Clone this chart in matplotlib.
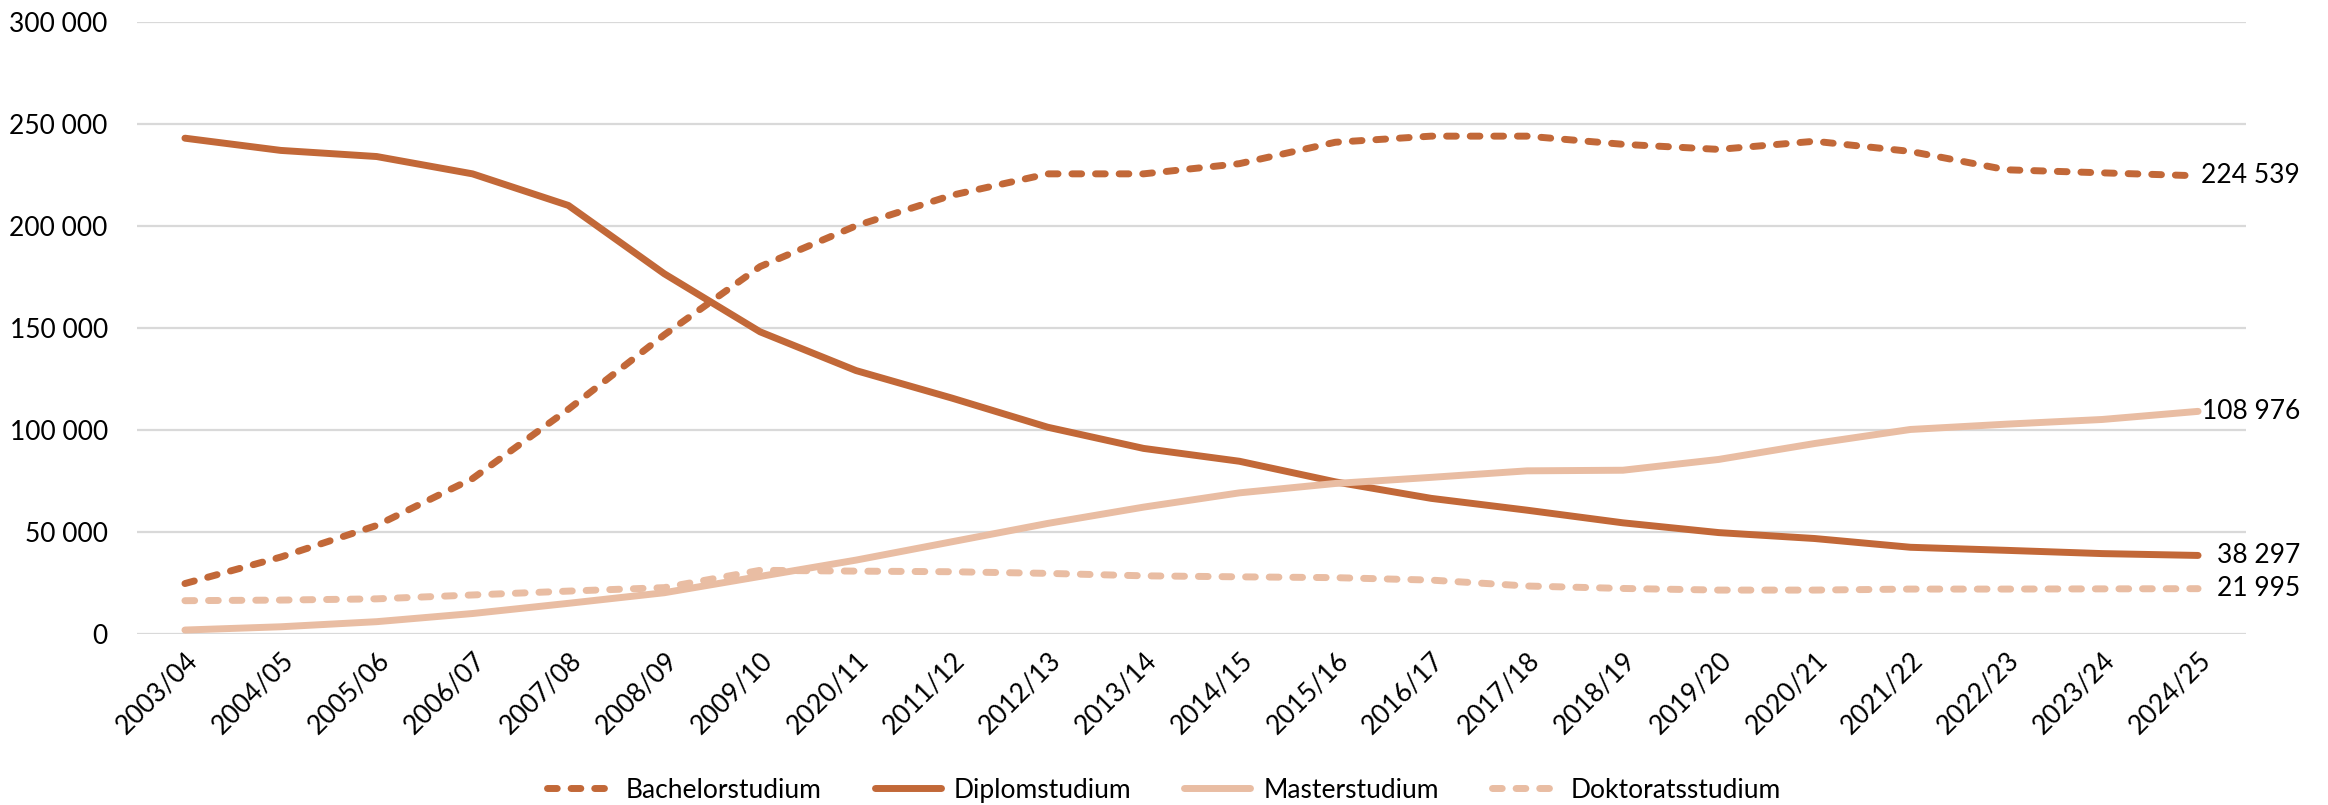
import matplotlib

matplotlib.use("Agg")
import matplotlib.pyplot as plt
from matplotlib.ticker import FuncFormatter

plt.rcParams["font.family"] = ["Lato", "DejaVu Sans"]

semesters = [
    "2003/04", "2004/05", "2005/06", "2006/07", "2007/08", "2008/09", "2009/10",
    "2020/11", "2011/12", "2012/13", "2013/14", "2014/15", "2015/16", "2016/17",
    "2017/18", "2018/19", "2019/20", "2020/21", "2021/22", "2022/23", "2023/24",
    "2024/25",
]

bachelor = [24500, 37500, 53000, 76000, 110000, 146500, 180000, 200000, 215000,
            225500, 225500, 230500, 241000, 244000, 244000, 240000, 237500,
            241500, 236500, 227500, 226000, 224539]
diplom = [243000, 237000, 234000, 225500, 210000, 176500, 148000, 129000, 115500,
          101200, 90800, 84500, 74400, 66300, 60500, 54300, 49500, 46600, 42300,
          40800, 39200, 38297]
master = [1700, 3300, 5800, 9800, 14800, 20000, 28000, 36000, 45000, 54000, 62000,
          69000, 73600, 76600, 79800, 80100, 85400, 93200, 100100, 102700, 105000,
          108976]
doktorat = [16100, 16400, 17000, 18900, 20800, 22500, 31000, 30600, 30300, 29500,
            28300, 27800, 27400, 26200, 23300, 22100, 21300, 21300, 21800, 21800,
            21900, 21995]

end_labels = ["224 539", "38 297", "108 976", "21 995"]

dark = "#C26838"
light = "#E9BDA3"

fig = plt.figure(figsize=(23.28, 8.05), dpi=100)
ax = fig.add_axes([137 / 2328, 1 - 633.5 / 805, 2109 / 2328, 611.5 / 805])

x = range(len(semesters))
lw = 5.0
dash = (1.4, 2.0)

(l_bach,) = ax.plot(x, bachelor, color=dark, lw=lw, dashes=dash,
                    dash_capstyle="round", solid_capstyle="round", label="Bachelorstudium")
(l_dipl,) = ax.plot(x, diplom, color=dark, lw=lw, solid_capstyle="round",
                    label="Diplomstudium")
(l_mast,) = ax.plot(x, master, color=light, lw=lw, solid_capstyle="round",
                    label="Masterstudium")
(l_dokt,) = ax.plot(x, doktorat, color=light, lw=lw, dashes=dash,
                    dash_capstyle="round", label="Doktoratsstudium")

# Werte rechts neben dem letzten Punkt, rechtsbündig
last = len(semesters) - 1
for series, text in zip([bachelor, diplom, master, doktorat], end_labels):
    ax.annotate(text, (last, series[-1]), xytext=(102, 0),
                textcoords="offset pixels", ha="right", va="center",
                fontsize=19, color="black", annotation_clip=False)

ax.set_xlim(-0.5, last + 0.5)
ax.set_ylim(0, 300000)
ax.set_yticks(range(0, 300001, 50000))
ax.yaxis.set_major_formatter(FuncFormatter(lambda v, _: f"{int(v):,}".replace(",", " ")))
ax.set_xticks(list(x))
ax.set_xticklabels(semesters, rotation=45, ha="right", rotation_mode="anchor")

ax.grid(axis="y", color="#D9D9D9", lw=1.6)
ax.set_axisbelow(True)
for s in ax.spines.values():
    s.set_visible(False)
ax.tick_params(axis="both", length=0, labelsize=19, colors="black")
ax.tick_params(axis="y", pad=21)
ax.tick_params(axis="x", pad=10)

fig.legend(handles=[l_bach, l_dipl, l_mast, l_dokt], loc="center",
           bbox_to_anchor=(0.5, 1 - 790 / 805), ncol=4, frameon=False,
           fontsize=19, handlelength=2.5, handletextpad=0.5, columnspacing=2.0)

fig.savefig("out.png", dpi=100, facecolor="white")
